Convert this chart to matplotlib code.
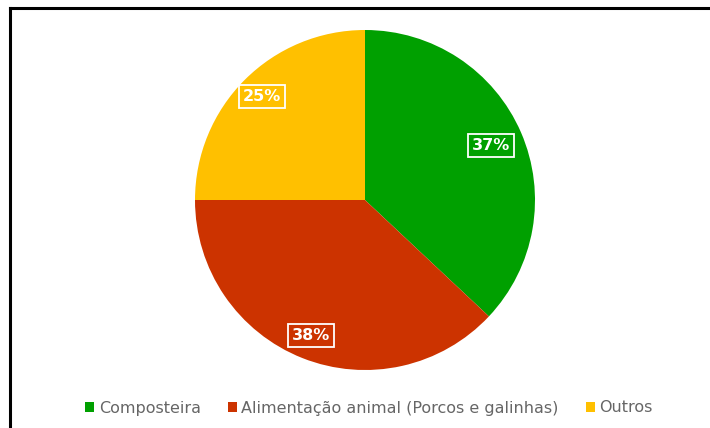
import matplotlib
matplotlib.use("Agg")
import matplotlib.pyplot as plt
from matplotlib.lines import Line2D
import numpy as np

# Destino dos resíduos orgânicos
categories = ["Composteira", "Alimentação animal (Porcos e galinhas)", "Outros"]
values = [37, 38, 25]
colors = ["#00A000", "#CC3300", "#FFC000"]
label_dist = [0.81, 0.86, 0.86]

W, H = 710, 428
fig = plt.figure(figsize=(W / 100, H / 100), dpi=100)
fig.patch.set_facecolor("white")

# Pie axes: centre (365, 200) px, radius 170 px
cx, cy, r = 365, 200, 170
ax = fig.add_axes([(cx - r) / W, (H - cy - r) / H, 2 * r / W, 2 * r / H])
wedges, _ = ax.pie(values, colors=colors, startangle=90, counterclock=False,
                   radius=1.0, wedgeprops=dict(linewidth=0))
ax.set_xlim(-1, 1)
ax.set_ylim(-1, 1)
ax.set_aspect("equal")
ax.axis("off")

for w, v, d in zip(wedges, values, label_dist):
    ang = np.deg2rad((w.theta1 + w.theta2) / 2)
    ax.text(d * np.cos(ang), d * np.sin(ang), f"{v}%", ha="center", va="center",
            color="white", fontsize=11.5, fontweight="bold", family="DejaVu Sans",
            bbox=dict(boxstyle="square,pad=0.25", facecolor="none",
                      edgecolor="white", linewidth=1.3))

fig.legend(wedges, categories, loc="center", bbox_to_anchor=(369 / W, 1 - 408 / H),
           ncol=3, frameon=False, handlelength=0.55, handleheight=0.55,
           handletextpad=0.3, columnspacing=1.7,
           prop=dict(family="DejaVu Sans", size=11.5), labelcolor="#666666")

# Outer frame (left and top edges)
x0 = 9.5 / W
y0 = 1 - 8 / H
fig.add_artist(Line2D([x0, x0], [0, y0], transform=fig.transFigure,
                      color="black", linewidth=2.2, solid_capstyle="projecting"))
fig.add_artist(Line2D([x0, 1], [y0, y0], transform=fig.transFigure,
                      color="black", linewidth=2.2, solid_capstyle="projecting"))

fig.savefig("out.png", dpi=100)
